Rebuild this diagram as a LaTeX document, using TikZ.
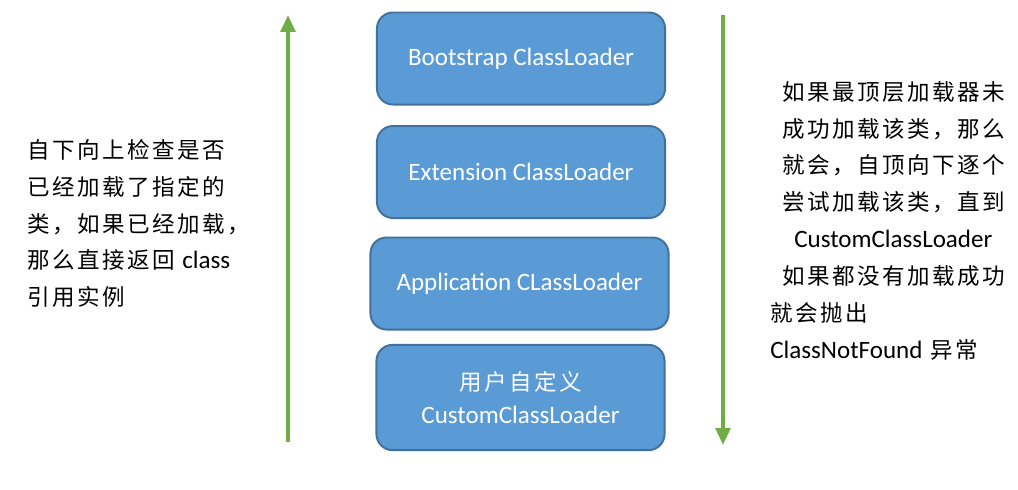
\documentclass[tikz,border=0pt]{standalone}
\usepackage{fontspec}
\setmainfont{Carlito}
\newfontfamily\cjk[Scale=0.9,LetterSpace=11]{Noto Sans CJK SC}
\usetikzlibrary{arrows.meta}
\definecolor{boxblue}{HTML}{5B9BD5}
\definecolor{boxedge}{HTML}{41719C}
\definecolor{flowgreen}{HTML}{70AD47}
\tikzstyle{loader} = [draw=boxedge, line width=1.4pt, fill=boxblue, rounded corners=0.4cm, text=white, minimum width=7.2cm, minimum height=2.3cm, align=center, font=\fontsize{17.8}{24}\selectfont]
\tikzstyle{note} = [inner sep=0pt, anchor=north west, align=left, font=\fontsize{17.8}{26.2}\selectfont\cjk]
\tikzstyle{flow} = [draw=flowgreen, line width=2.8pt, -{Triangle[length=0.42cm,width=0.36cm]}]
\newcommand{\entext}[1]{{\rmfamily #1}}

\begin{document}
\begin{tikzpicture}[x=0.025cm,y=-0.025cm]%
			\useasboundingbox (0,0) rectangle (1018,489);%
			% the loader stack
			\node [loader] (boot) at (521,58.5) {Bootstrap ClassLoader};%
			\node [loader] (ext) at (521,172) {Extension ClassLoader};%
			\node [loader, minimum width=7.45cm] (app) at (519.5,283.5) {Application CLassLoader};%
			\node [loader, minimum height=2.63cm] (custom) at (520.5,397.5) {{\cjk 用户自定义}\\CustomClassLoader};%
			% up and down arrows
			\coordinate (upfrom) at (288,442);%
			\coordinate (upto) at (288,15);%
			\coordinate (downfrom) at (723,15);%
			\coordinate (downto) at (723,445);%
			\draw [flow] (upfrom) -- (upto);%
			\draw [flow] (downfrom) -- (downto);%
			% side texts
			\node [note] (upnote) at (27,139) {自下向上检查是否\\已经加载了指定的\\类，如果已经加载，\\那么直接返回 \entext{class}\\引用实例};%
			\node [note] (downnote) at (770,81) {\hspace*{0.3cm}如果最顶层加载器未\\
				\hspace*{0.3cm}成功加载该类，那么\\
				\hspace*{0.3cm}就会，自顶向下逐个\\
				\hspace*{0.3cm}尝试加载该类，直到\\
				\hspace*{0.6cm}\entext{CustomClassLoader}\\
				\hspace*{0.3cm}如果都没有加载成功\\
				就会抛出\\
				\entext{ClassNotFound} 异常};%
		\end{tikzpicture}
\end{document}
